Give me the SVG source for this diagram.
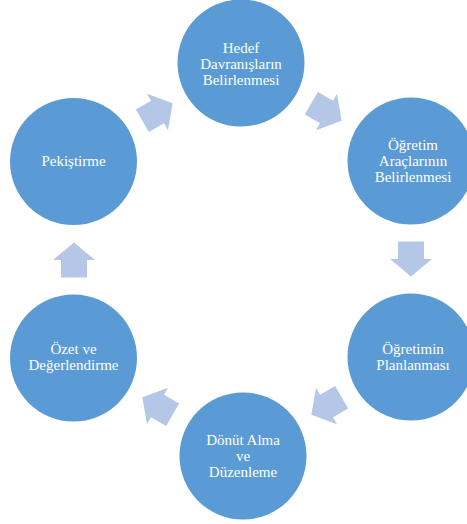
<svg xmlns="http://www.w3.org/2000/svg" width="467" height="524" viewBox="0 0 467 524">
<defs>
<style>
.node circle{fill:#5B9BD5;}
.node text{fill:#FFFFFF;font-family:"Liberation Serif","Times New Roman",serif;font-size:15px;text-anchor:middle;}
.arr{fill:#B4C7E7;}
</style>
<path id="arrow" d="M-17.5,-13 H0 V-21 L17.5,0 L0,21 V13 H-17.5 Z"/>
</defs>
<rect width="467" height="524" fill="#FFFFFF"/>
<g id="connectors">
<use href="#arrow" class="arr" transform="translate(157.5,112) rotate(-30)"/>
<use href="#arrow" class="arr" transform="translate(326.5,112) rotate(30)"/>
<use href="#arrow" class="arr" transform="translate(411,259) rotate(90)"/>
<use href="#arrow" class="arr" transform="translate(326.5,406) rotate(150)"/>
<use href="#arrow" class="arr" transform="translate(157.5,406) rotate(210)"/>
<use href="#arrow" class="arr" transform="translate(74,260) rotate(-90)"/>
</g>
<g id="node-hedef" class="node">
<circle cx="241" cy="63" r="63.5"/>
<text x="241" y="53">Hedef</text>
<text x="241" y="69">Davranışların</text>
<text x="241" y="85">Belirlenmesi</text>
</g>
<g id="node-araclar" class="node">
<circle cx="411" cy="161" r="63.5"/>
<text x="413" y="150">Öğretim</text>
<text x="413" y="166">Araçlarının</text>
<text x="413" y="182">Belirlenmesi</text>
</g>
<g id="node-planlama" class="node">
<circle cx="411" cy="357" r="63.5"/>
<text x="413" y="354">Öğretimin</text>
<text x="413" y="370">Planlanması</text>
</g>
<g id="node-donut" class="node">
<circle cx="243" cy="456" r="63.5"/>
<text x="243" y="445">Dönüt Alma</text>
<text x="243" y="461">ve</text>
<text x="243" y="477">Düzenleme</text>
</g>
<g id="node-ozet" class="node">
<circle cx="73.5" cy="358" r="63.5"/>
<text x="73.5" y="354">Özet ve</text>
<text x="73.5" y="370">Değerlendirme</text>
</g>
<g id="node-pekistirme" class="node">
<circle cx="73.5" cy="161.5" r="63.5"/>
<text x="73.5" y="166">Pekiştirme</text>
</g>
</svg>
